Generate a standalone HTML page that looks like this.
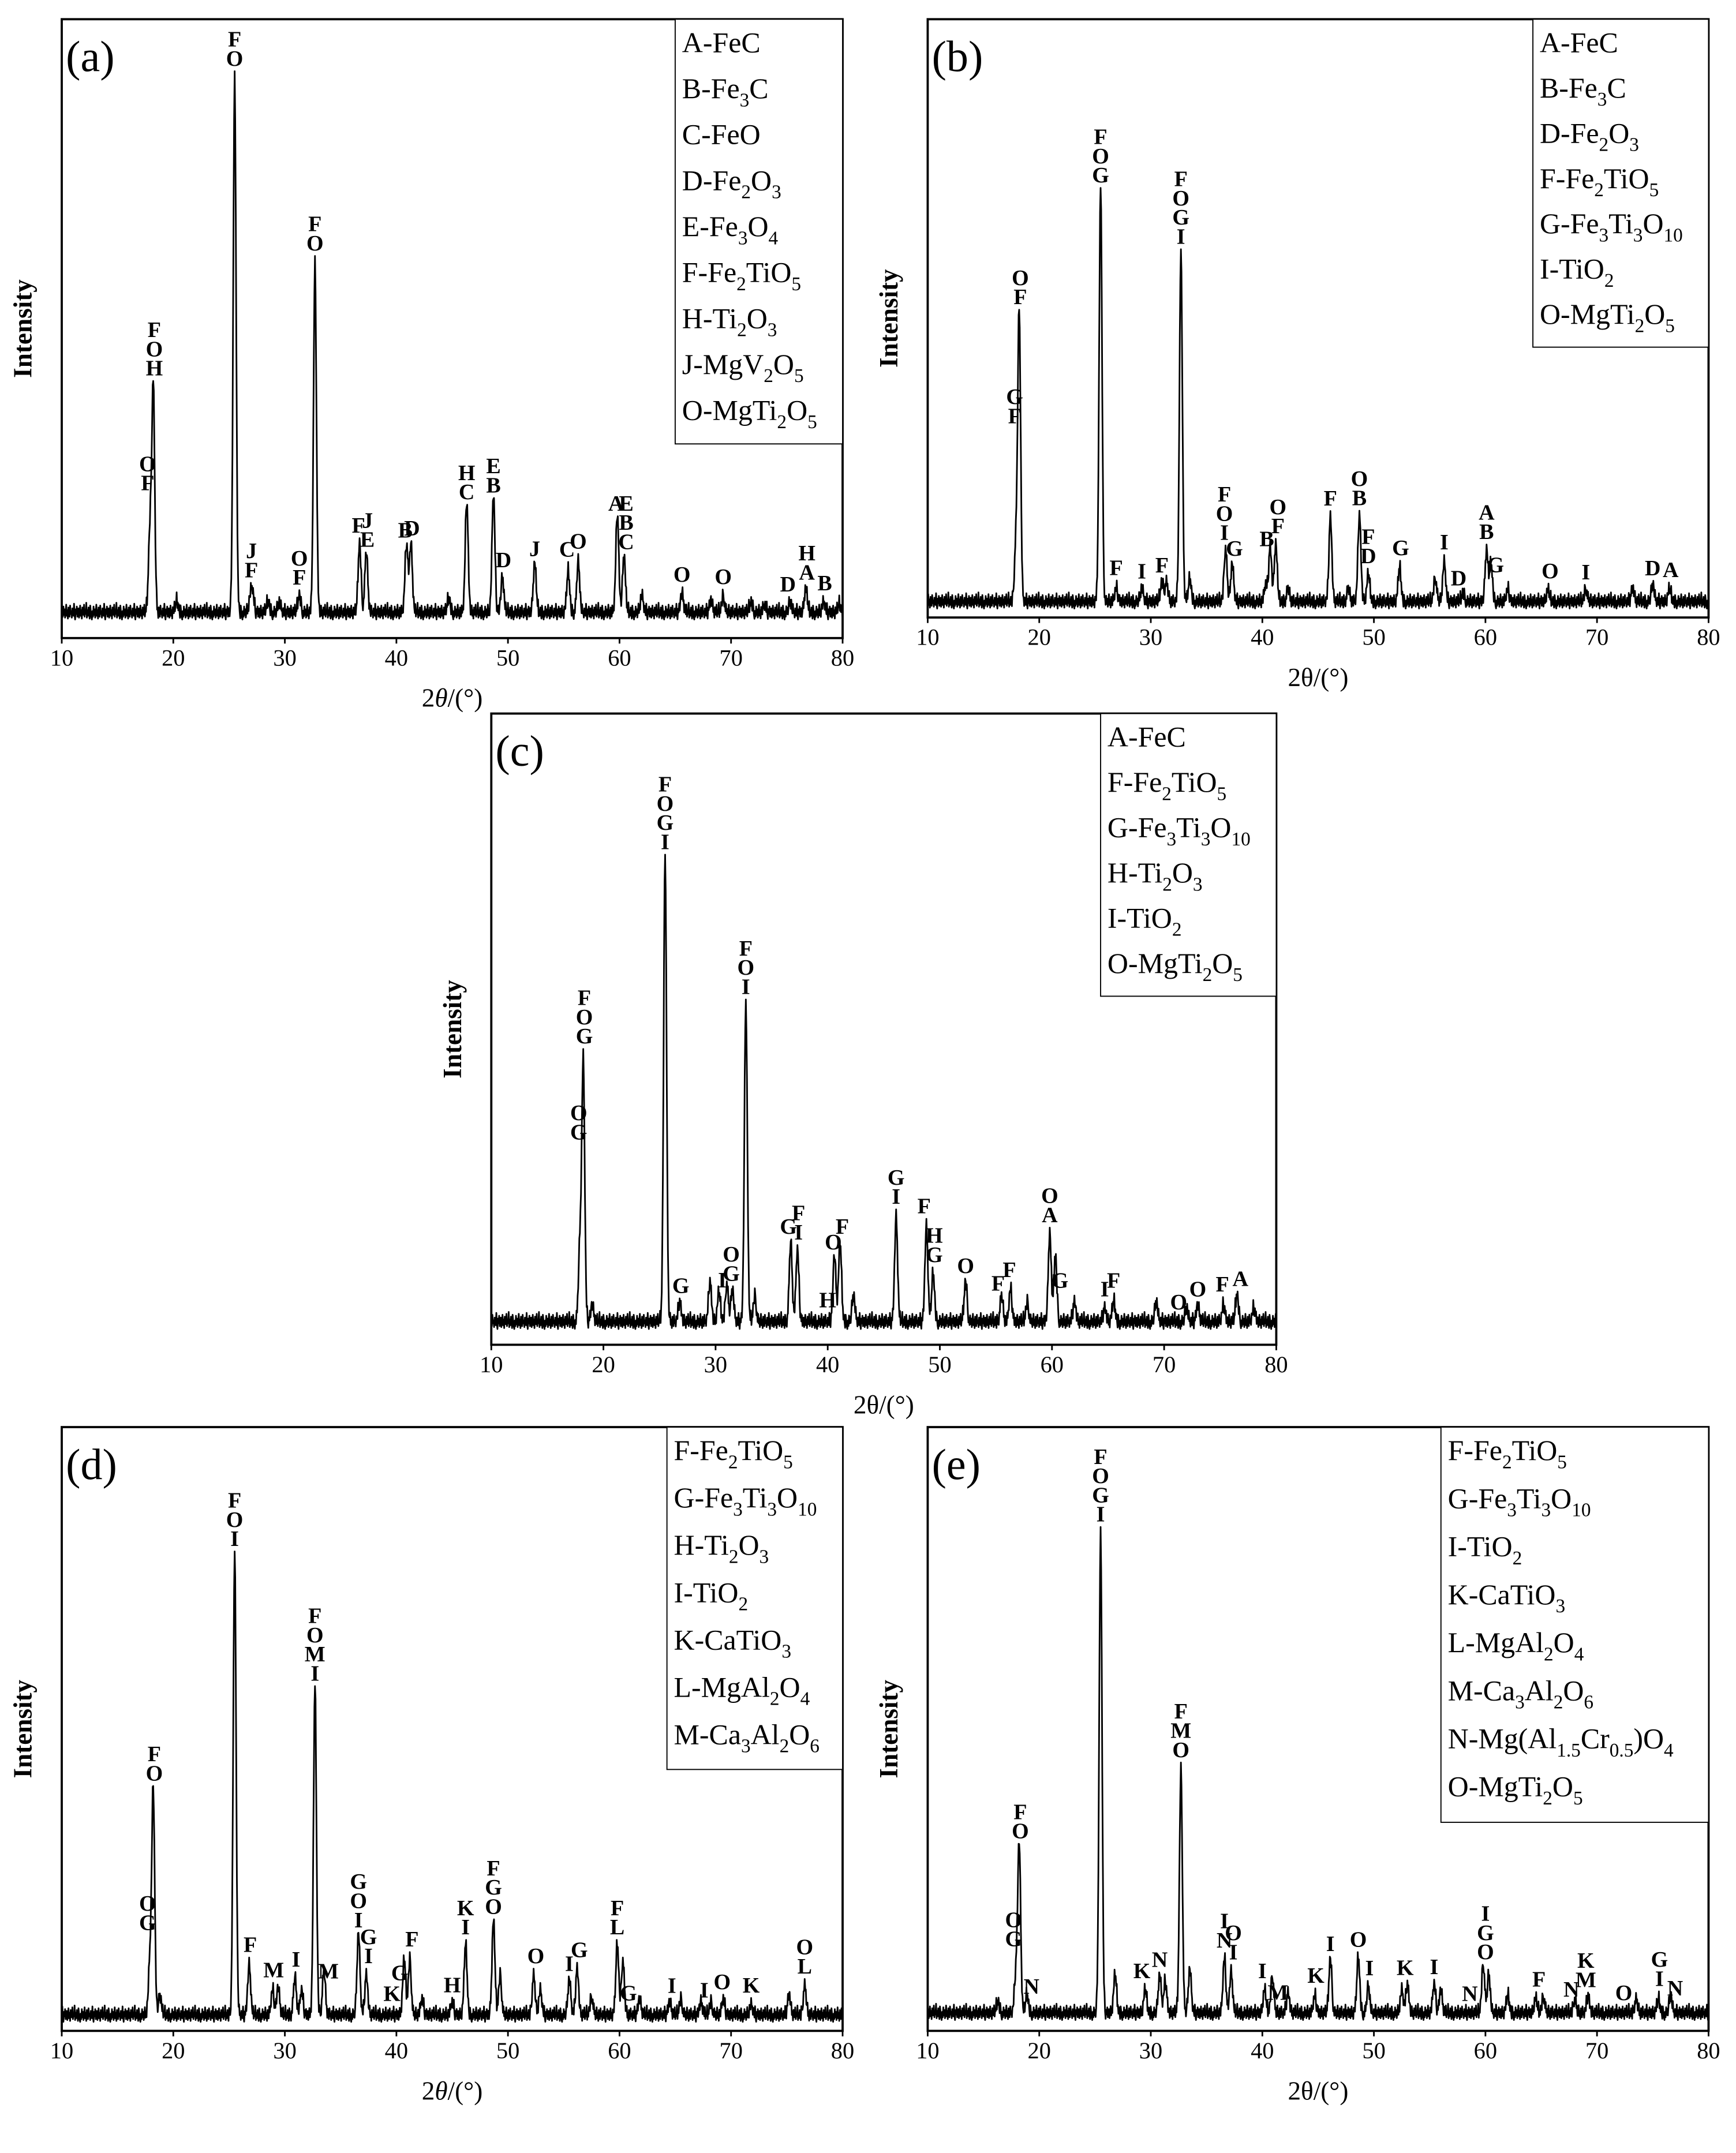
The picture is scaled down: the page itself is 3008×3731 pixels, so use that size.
<!DOCTYPE html>
<html><head><meta charset="utf-8"><style>
html,body{margin:0;padding:0;background:#fff;}
svg{display:block;}
text{font-family:"Liberation Serif",serif;fill:#000;}
</style></head><body>
<svg id="fig" xmlns="http://www.w3.org/2000/svg" width="3008" height="3731" viewBox="0 0 1265 1569" preserveAspectRatio="none"></svg>
<script>
// ---- data (2theta in degrees, intensity in % of plot height, top of peak incl. baseline) ----
const noise = [0.0,0.9,0.3,1.4,0.5,1.1,0.2,0.8,1.6,0.4,1.0,0.1,1.3,0.7,0.3,1.5,0.6,0.9,0.2,1.2,0.8,0.4,1.7,0.5,0.0,1.1,0.6,1.4,0.3,0.9,1.2,0.2,0.7,1.5,0.4,1.0,0.1,1.3,0.8,0.5,1.6,0.3,0.9,0.6,1.8,0.2,1.0,0.4,1.3,0.7,0.1,1.5,0.9,0.3];

const aPos = [17.9,18.2,20.3,25.5,26.9,27.1,28.5,29.5,31.3,32.7,36.7,37.3,40.9,41.3,44.7,46.3,48.7,49.5,52.4,55.4,56.3,59.8,60.4,62,65.6,68.2,69.3,71.8,73,75.3,76.7,78.3,79.7];
const aVal = [16.6,41,5.5,90,6,7,5.5,5.5,6.6,60,15,13.7,15,15,6,22,23,9.5,11.8,10.4,12,20,13,6.6,7,5.8,6.6,5.5,5,5.5,7.7,5.5,5];
const aLab = [[17.7,"O F"],[18.3,"F O H"],[25.5,"F O"],[27.0,"J F"],[31.3,"O F"],[32.7,"F O"],[36.6,"F"],[37.4,"J E"],[40.8,"B"],[41.4,"D"],[46.3,"H C"],[48.7,"E B"],[49.6,"D"],[52.4,"J"],[55.3,"C"],[56.3,"O"],[59.7,"A"],[60.6,"E B C"],[65.6,"O"],[69.3,"O"],[75.1,"D"],[76.8,"H A"],[78.4,"B"]];
const aLeg = ["A-FeC","B-Fe_3C","C-FeO","D-Fe_2O_3","E-Fe_3O_4","F-Fe_2TiO_5","H-Ti_2O_3","J-MgV_2O_5","O-MgTi_2O_5"];

const bPos = [17.9,18.2,25.5,26.9,29.2,31,31.4,32.7,33.5,36.7,37.3,40.3,40.7,41.2,42.3,46.1,47.7,48.7,49.5,52.3,55.5,56.3,58,60.1,60.5,62,65.6,69,73.2,75,76.5];
const bVal = [11.5,51,72,4.6,4.6,5.7,5.7,61,6,11.5,8.7,5.2,11.5,12,4.5,16.5,4.5,17,6.9,8,6.5,9,3.8,11,8.5,4.4,4.2,4.6,4.6,5.2,4.4];
const bLab = [[17.8,"G F"],[18.3,"O F"],[25.5,"F O G"],[26.9,"F"],[29.2,"I"],[31,"F"],[32.7,"F O G I"],[36.6,"F O I"],[37.5,"G"],[40.4,"B"],[41.4,"O F"],[46.1,"F"],[48.7,"O B"],[49.5,"F D"],[52.4,"G"],[56.3,"I"],[57.6,"D"],[60.1,"A B"],[60.9,"G"],[65.8,"O"],[69,"I"],[75,"D"],[76.6,"A"]];
const bLeg = ["A-FeC","B-Fe_3C","D-Fe_2O_3","F-Fe_2TiO_5","G-Fe_3Ti_3O_10","I-TiO_2","O-MgTi_2O_5"];

const cPos = [17.9,18.2,19,25.5,26.8,29.5,30.3,31,31.5,32.7,33.5,36.7,37.3,40.6,41.1,42.3,46.1,48.8,49.4,52.3,55.5,56.3,57.8,59.8,60.3,62,64.7,65.5,69.3,72,73,75.3,76.5,78];
const cVal = [15,44.6,6,78,6.5,9.8,8,9.5,8.5,54,7.5,16,14.8,14,16,7.5,20,18.5,10.9,9.8,7.5,8.5,6.5,17.4,14,6.5,5.5,6.5,6.5,5.5,6,6,7.6,5.5];
const cLab = [[17.8,"O G"],[18.3,"F O G"],[25.5,"F O G I"],[26.9,"G"],[30.6,"I"],[31.4,"O G"],[32.7,"F O I"],[36.5,"G"],[37.4,"F I"],[40.0,"H"],[40.5,"O"],[41.3,"F"],[46.1,"G I"],[48.6,"F"],[49.5,"H G"],[52.3,"O"],[55.2,"F"],[56.2,"F"],[59.8,"O A"],[60.7,"G"],[64.7,"I"],[65.5,"F"],[71.3,"O"],[73,"O"],[75.2,"F"],[76.8,"A"]];
const cLeg = ["A-FeC","F-Fe_2TiO_5","G-Fe_3Ti_3O_10","H-Ti_2O_3","I-TiO_2","O-MgTi_2O_5"];

const dPos = [17.9,18.2,18.8,25.5,26.8,28.9,29.4,30.9,31.5,32.7,33.5,36.6,37.3,40.7,41.2,42.3,45,46.2,48.7,49.3,52.3,52.9,55.5,56.2,57.5,59.8,60.3,61.8,64.5,65.5,67.3,68.2,69.3,71.8,75.2,76.6];
const dVal = [11,40,5.5,79,10.7,6.5,7,8.6,6.5,57,9.8,16,9,11.6,11.6,5,4.5,14,18,9,9,6.5,8.3,10,5.5,14,11.6,5,4.5,5,4.5,4.5,5,4,5.7,7.3];
const dLab = [[17.7,"O G"],[18.3,"F O"],[25.5,"F O I"],[26.9,"F"],[29,"M"],[31,"I"],[32.7,"F O M I"],[33.9,"M"],[36.6,"G O I"],[37.5,"G I"],[39.6,"K"],[40.3,"G"],[41.4,"F"],[45,"H"],[46.2,"K I"],[48.7,"F G O"],[52.5,"O"],[55.5,"I"],[56.4,"G"],[59.8,"F L"],[60.8,"G"],[64.7,"I"],[67.6,"I"],[69.2,"O"],[71.8,"K"],[76.6,"O L"]];
const dLeg = ["F-Fe_2TiO_5","G-Fe_3Ti_3O_10","H-Ti_2O_3","I-TiO_2","K-CaTiO_3","L-MgAl_2O_4","M-Ca_3Al_2O_6"];

const ePos = [16.3,17.9,18.2,18.9,25.5,26.8,29.5,30.8,31.3,32.7,33.5,36.6,37.2,40.2,40.9,42.3,44.7,46.1,48.6,49.5,52.5,53,55.4,56,59.8,60.3,62,64.5,65.2,68,69.2,73.5,75.5,76.6];
const eVal = [4.5,9,31,5.5,82,9,6.5,9,8,43,10,11.8,9.5,6.5,9,6,5.5,11.8,11.8,7,6.5,7.5,7.5,6.5,11,9,5.5,5,5.5,5,5.5,5,4.8,5.5];
const eLab = [[17.7,"O G"],[18.3,"F O"],[19.3,"N"],[25.5,"F O G I"],[29.2,"K"],[30.8,"N"],[32.7,"F M O"],[36.6,"I N"],[37.4,"O I"],[40.0,"I"],[41.4,"M"],[44.8,"K"],[46.1,"I"],[48.6,"O"],[49.6,"I"],[52.8,"K"],[55.4,"I"],[58.6,"N"],[60,"I G O"],[64.8,"F"],[67.7,"N"],[69,"K M"],[72.4,"O"],[75.6,"G I"],[77,"N"]];
const eLeg = ["F-Fe_2TiO_5","G-Fe_3Ti_3O_10","I-TiO_2","K-CaTiO_3","L-MgAl_2O_4","M-Ca_3Al_2O_6","N-Mg(Al_1.5Cr_0.5)O_4","O-MgTi_2O_5"];

const xTicks = [10,20,30,40,50,60,70,80];

const NS = "http://www.w3.org/2000/svg";
const svg = document.getElementById('fig');
function mk(tag, attrs, parent){
  const e = document.createElementNS(NS, tag);
  for (const k in attrs) e.setAttribute(k, attrs[k]);
  (parent||svg).appendChild(e);
  return e;
}

function panel(cfg){
  const {id,x0,x1,y0,y1,base,pos,val,lab,leg,legW,legRow,letter,xlabItalic,noiseOff} = cfg;
  const g = mk('g',{});
  
  
  const xs = v => x0 + (v-10)/70*(x1-x0);
  const ys = v => y1 - v/100*(y1-y0);
  const step = 0.05, sig = 0.13;
  const spec = [];
  let d = "";
  for (let i=0; i<=1400; i++){
    const t = 10 + i*step;
    let v = base - 0.8 + noise[(i+noiseOff)%noise.length]*1.5;
    for (let k=0;k<pos.length;k++){
      const a = val[k]-base;
      const z = (t-pos[k])/sig;
      v += a*Math.exp(-0.5*z*z);
    }
    spec.push(v);
    d += (i? "L":"M") + xs(t).toFixed(2) + "," + ys(v).toFixed(2);
  }
  const line = mk('path',{d:d,fill:'none',stroke:'#000','stroke-width':1.2,'stroke-linejoin':'round'},g);
  
  
  const fr = mk('rect',{x:x0,y:y0,width:x1-x0,height:y1-y0,fill:'none',stroke:'#000','stroke-width':1.6},g);
  
  
  xTicks.forEach(t=>{
    mk('line',{x1:xs(t),x2:xs(t),y1:y1,y2:y1+4,stroke:'#000','stroke-width':1.2},g);
    const tl = mk('text',{x:xs(t),y:y1+20,'font-size':17,'text-anchor':'middle'},g);
    tl.textContent = t;
    
    
  });
  const xl = mk('text',{x:(x0+x1)/2,y:y1+50,'font-size':19,'text-anchor':'middle'},g);
  
  
  const t1 = mk('tspan',{},xl); t1.textContent = "2";
  const t2 = mk('tspan',{'font-style':xlabItalic?'italic':'normal'},xl); t2.textContent = "θ";
  const t3 = mk('tspan',{},xl); t3.textContent = "/(°)";
  const yc = (y0+y1)/2, yx = x0-22;
  const yl = mk('text',{x:yx,y:yc,'font-size':19,'font-weight':'bold','text-anchor':'middle',transform:`rotate(-90 ${yx} ${yc})`},g);
  yl.textContent = "Intensity";
  
  
  const pl = mk('text',{x:x0+3,y:y0+38,'font-size':32},g);
  pl.textContent = "("+letter+")";
  
  
  lab.forEach(L=>{
    const [px, txt] = L;
    const i0 = Math.round((px-10)/step);
    let m = 0;
    for (let i=Math.max(0,i0-5); i<=Math.min(1400,i0+5); i++) m = Math.max(m, spec[i]);
    const lines = txt.split(" ");
    const bottom = ys(m) - 4;
    const tg = mk('text',{'font-size':16,'font-weight':'bold','text-anchor':'middle'},g);
    
    
    lines.forEach((s,j)=>{
      const ts = mk('tspan',{x:xs(px),y:bottom-(lines.length-1-j)*14},tg);
      ts.textContent = s;
    });
  });
  const lh = legRow*leg.length + 8;
  const lg = mk('g',{},g);
  
  
  mk('rect',{x:x1-legW,y:y0,width:legW,height:lh,fill:'#fff',stroke:'#000','stroke-width':0.8},lg);
  leg.forEach((s,j)=>{
    const te = mk('text',{x:x1-legW+5,y:y0+24+j*legRow,'font-size':21},lg);
    
    
    const parts = s.split(/(_[0-9.]+)/);
    parts.forEach(p=>{
      if(!p) return;
      if(p[0]==='_'){
        const sb = mk('tspan',{'font-size':14,dy:6},te); sb.textContent = p.slice(1);
        const rs = mk('tspan',{'font-size':21,dy:-6},te); rs.textContent = "\u200b";
      } else {
        const n = mk('tspan',{},te); n.textContent = p;
      }
    });
  });
}

panel({id:'a',x0:45,x1:614,y0:14,y1:465,base:3.8,pos:aPos,val:aVal,lab:aLab,leg:aLeg,legW:122,legRow:33.5,letter:'a',xlabItalic:true,noiseOff:0});
panel({id:'b',x0:676,x1:1245,y0:14,y1:450,base:2.3,pos:bPos,val:bVal,lab:bLab,leg:bLeg,legW:128,legRow:33,letter:'b',xlabItalic:false,noiseOff:7});
panel({id:'c',x0:358,x1:930,y0:520,y1:980,base:3.3,pos:cPos,val:cVal,lab:cLab,leg:cLeg,legW:128,legRow:33,letter:'c',xlabItalic:false,noiseOff:13});
panel({id:'d',x0:45,x1:614,y0:1040,y1:1480,base:2.3,pos:dPos,val:dVal,lab:dLab,leg:dLeg,legW:128,legRow:34.5,letter:'d',xlabItalic:true,noiseOff:21});
panel({id:'e',x0:676,x1:1245,y0:1040,y1:1480,base:2.6,pos:ePos,val:eVal,lab:eLab,leg:eLeg,legW:195,legRow:35,letter:'e',xlabItalic:false,noiseOff:29});
</script>
</body></html>
